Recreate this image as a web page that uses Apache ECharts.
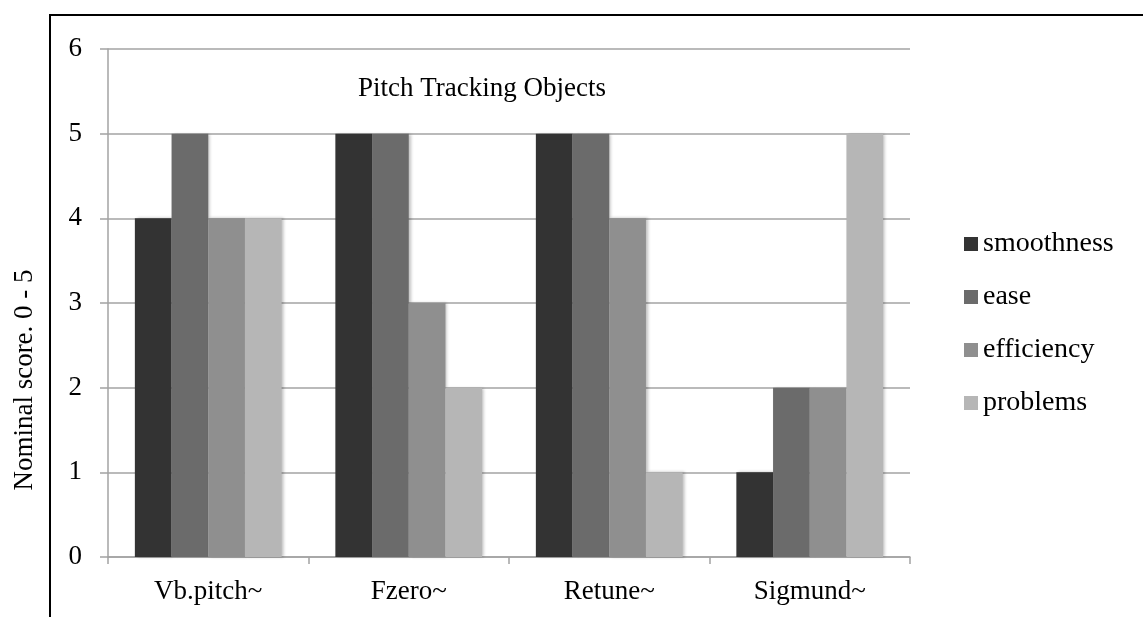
<!DOCTYPE html>
<html>
<head>
<meta charset="utf-8">
<script src="https://cdn.jsdelivr.net/npm/echarts@6/dist/echarts.min.js"></script>
<style>
html,body{margin:0;padding:0;background:#fff;}
#c{width:1143px;height:617px;}
</style>
</head>
<body>
<div id="c"></div>
<script>
var categories = ['Vb.pitch~', 'Fzero~', 'Retune~', 'Sigmund~'];
var smoothness = [4, 5, 5, 1];
var ease = [5, 5, 5, 2];
var efficiency = [4, 3, 4, 2];
var problems = [4, 2, 1, 5];
var yTicks = [0, 1, 2, 3, 4, 5, 6];
var seriesNames = ['smoothness', 'ease', 'efficiency', 'problems'];
var seriesColors = ['#333333', '#6b6b6b', '#8f8f8f', '#b6b6b6'];
var seriesData = [smoothness, ease, efficiency, problems];

var FONT = '"Liberation Serif", "DejaVu Serif", serif';
var chart = echarts.init(document.getElementById('c'));

var series = seriesNames.map(function (n, i) {
  return {
    name: n,
    type: 'bar',
    data: seriesData[i],
    barGap: '0%',
    barCategoryGap: '26.8%',
    itemStyle: {
      color: seriesColors[i],
      shadowColor: 'rgba(0,0,0,0.25)',
      shadowBlur: 3,
      shadowOffsetX: 2,
      shadowOffsetY: 0
    }
  };
});

chart.setOption({
  animation: false,
  backgroundColor: '#fff',
  textStyle: { fontFamily: FONT },
  grid: { left: 108, right: 233, top: 49, bottom: 60, containLabel: false },
  legend: {
    orient: 'vertical',
    left: 959,
    top: 225,
    itemWidth: 14,
    itemHeight: 14,
    itemGap: 25,
    icon: 'rect',
    data: seriesNames,
    textStyle: { fontFamily: FONT, fontSize: 28, color: '#000', lineHeight: 27 }
  },
  xAxis: {
    type: 'category',
    data: categories,
    axisLine: { lineStyle: { color: '#a3a3a3', width: 1.5 } },
    axisTick: { show: true, length: 7, lineStyle: { color: '#a3a3a3', width: 1.5 } },
    axisLabel: { fontFamily: FONT, fontSize: 27, color: '#000', margin: 21 }
  },
  yAxis: {
    type: 'value',
    min: 0,
    max: 6,
    interval: 1,
    axisLine: { show: true, lineStyle: { color: '#a3a3a3', width: 1.5 } },
    axisTick: { show: true, length: 8, lineStyle: { color: '#a3a3a3', width: 1.5 } },
    splitLine: { lineStyle: { color: '#a3a3a3', width: 1.5 } },
    axisLabel: {
      fontFamily: FONT, fontSize: 27, color: '#000', margin: 26,
      padding: [6, 0, 0, 0],
      formatter: function (v) { return yTicks.indexOf(v) >= 0 ? String(v) : ''; }
    }
  },
  graphic: [
    {
      type: 'rect',
      shape: { x: 50, y: 15, width: 1200, height: 700 },
      style: { fill: 'none', stroke: '#000', lineWidth: 2 },
      silent: true
    },
    {
      type: 'text',
      left: 358,
      top: 75,
      style: { text: 'Pitch Tracking Objects', font: '27px ' + FONT, fill: '#000' }
    },
    {
      type: 'text',
      x: 25,
      y: 380,
      rotation: Math.PI / 2,
      style: {
        text: 'Nominal score. 0 - 5',
        font: '27px ' + FONT,
        fill: '#000',
        align: 'center',
        verticalAlign: 'middle'
      }
    }
  ],
  series: series
});
</script>
</body>
</html>
